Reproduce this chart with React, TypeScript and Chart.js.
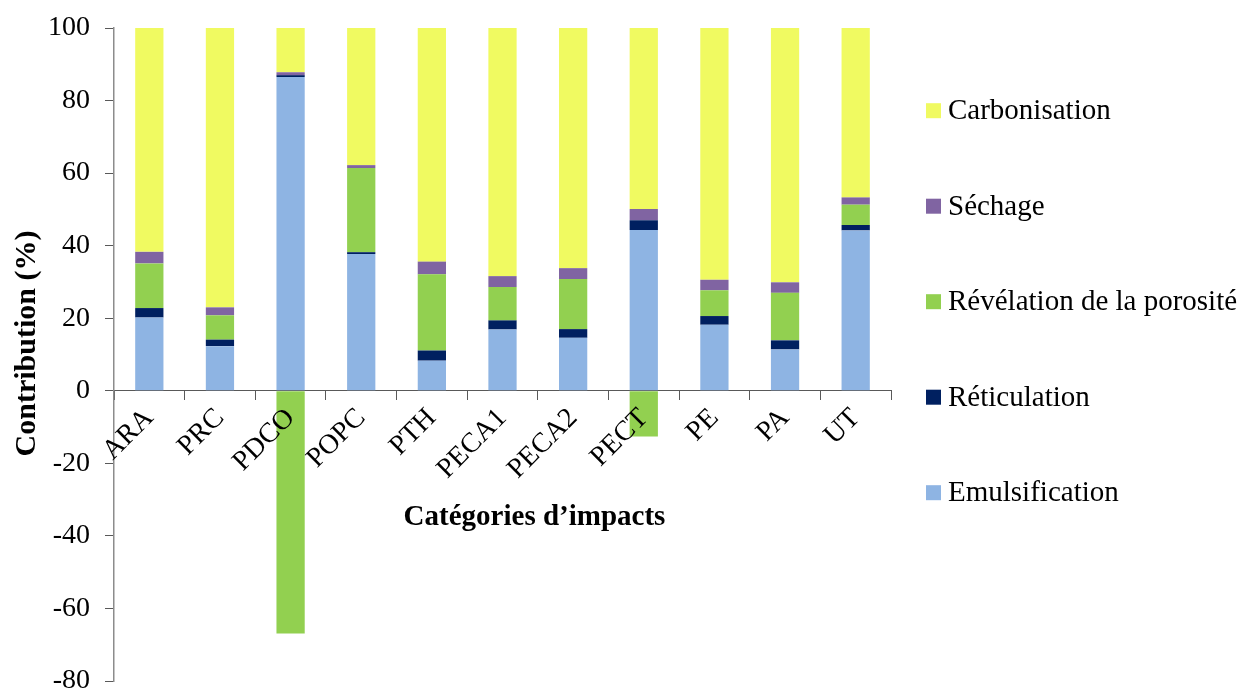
import React, { useEffect, useRef } from "react";
import { Chart, registerables } from "chart.js";

Chart.register(...registerables);

const categories = ["ARA", "PRC", "PDCO", "POPC", "PTH", "PECA1", "PECA2", "PECT", "PE", "PA", "UT"];

const emulsification = [20.2, 12.3, 86.5, 37.7, 8.3, 16.9, 14.6, 44.3, 18.2, 11.4, 44.2];
const reticulation = [2.6, 1.8, 0.5, 0.5, 2.8, 2.5, 2.4, 2.7, 2.4, 2.5, 1.5];
const revelation = [12.3, 6.7, -66.9, 23.2, 21.0, 9.2, 13.8, -12.6, 7.1, 13.1, 5.6];
const sechage = [3.2, 2.2, 0.8, 0.8, 3.5, 3.0, 3.0, 3.1, 2.9, 2.9, 2.0];
const carbonisation = [61.7, 77.0, 12.2, 37.8, 64.4, 68.4, 66.2, 49.9, 69.4, 70.1, 46.7];

const seriesNames = ["Emulsification", "Réticulation", "Révélation de la porosité", "Séchage", "Carbonisation"];
const seriesColors = ["#8EB4E3", "#002060", "#92D050", "#8064A2", "#F0FA61"];

const yMin = -80;
const yMax = 100;
const yStep = 20;

const xTitle = "Catégories d’impacts";
const yTitle = "Contribution (%)";

const FONT = "'Liberation Serif', 'Times New Roman', Times, serif";

const overlayPlugin = {
  id: "overlay",
  afterDraw(chart: any) {
    const ctx = chart.ctx;
    const xs = chart.scales.x;
    const ys = chart.scales.y;
    ctx.save();
    ctx.fillStyle = "#000";
    ctx.textAlign = "center";
    ctx.textBaseline = "middle";

    // x axis title
    ctx.font = `bold 29px ${FONT}`;
    ctx.fillText(xTitle, (xs.left + xs.right) / 2 + 32, ys.getPixelForValue(0) + 127);

    // y axis title
    ctx.save();
    ctx.font = `bold 30px ${FONT}`;
    ctx.translate(27, (ys.top + ys.bottom) / 2 - 11);
    ctx.rotate(-Math.PI / 2);
    ctx.fillText(yTitle, 0, 0);
    ctx.restore();

    // legend (reverse order, top to bottom)
    const ds = chart.data.datasets;
    ctx.font = `29px ${FONT}`;
    ctx.textAlign = "left";
    const startY = 110.7;
    const gap = 95.5;
    for (let k = 0; k < ds.length; k++) {
      const d = ds[ds.length - 1 - k];
      const cy = startY + k * gap;
      ctx.fillStyle = d.backgroundColor;
      ctx.fillRect(926, cy - 7.5, 15, 15);
      ctx.fillStyle = "#000";
      ctx.fillText(d.label, 948, cy + 1);
    }
    ctx.restore();
  },
};

export default function App() {
  const ref = useRef<HTMLCanvasElement | null>(null);

  useEffect(() => {
    if (!ref.current) return;
    const values = [emulsification, reticulation, revelation, sechage, carbonisation];
    const chart = new Chart(ref.current, {
      type: "bar",
      data: {
        labels: categories,
        datasets: seriesNames.map((name, i) => ({
          label: name,
          data: values[i],
          backgroundColor: seriesColors[i],
          borderWidth: 0,
          categoryPercentage: 1,
          barPercentage: 0.4,
        })),
      },
      options: {
        animation: false,
        responsive: true,
        maintainAspectRatio: false,
        layout: { padding: { left: 0, top: 28, right: 352, bottom: 8 } },
        plugins: {
          legend: { display: false },
          tooltip: { enabled: false },
        },
        scales: {
          x: {
            stacked: true,
            position: { y: 0 } as any,
            grid: {
              drawOnChartArea: false,
              drawTicks: true,
              tickLength: 9,
              color: "#595959",
              offset: true,
            },
            border: { display: true, color: "#595959", width: 1 },
            ticks: {
              z: 1,
              autoSkip: false,
              minRotation: 45,
              maxRotation: 45,
              padding: 2,
              color: "#000",
              font: { family: FONT, size: 28 },
            },
          },
          y: {
            stacked: true,
            min: yMin,
            max: yMax,
            grid: {
              drawOnChartArea: false,
              drawTicks: true,
              tickLength: 9,
              color: "#595959",
            },
            border: { display: true, color: "#8C8C8C", width: 1.5 },
            ticks: {
              stepSize: yStep,
              padding: 15,
              color: "#000",
              font: { family: FONT, size: 28 },
            },
            title: { display: false },
            afterFit: (scale: any) => {
              scale.width = 114;
              scale.paddingTop = 0;
              scale.paddingBottom = 0;
            },
          },
        },
      },
      plugins: [overlayPlugin],
    });
    return () => chart.destroy();
  }, []);

  return (
    <div style={{ position: "absolute", left: 0, top: 0, width: 1243, height: 689, background: "#fff" }}>
      <canvas ref={ref} />
    </div>
  );
}
